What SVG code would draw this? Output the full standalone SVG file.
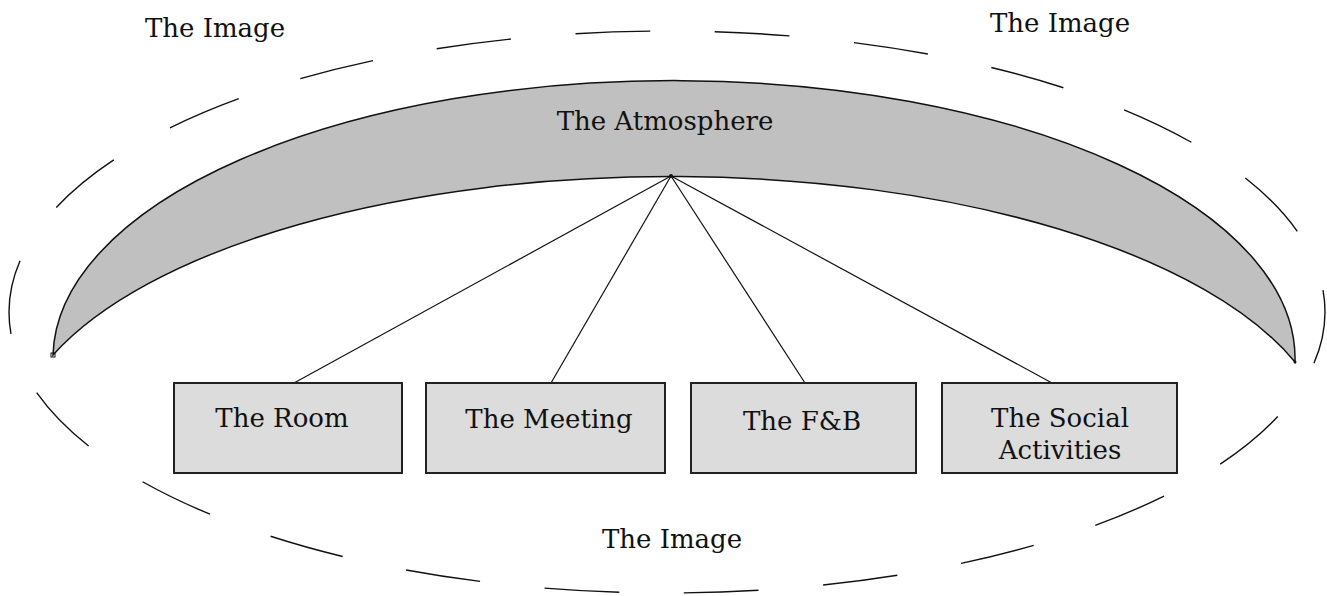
<svg xmlns="http://www.w3.org/2000/svg" width="1327" height="596" viewBox="0 0 1327 596">
  <style>
    .lbl { font-family: "DejaVu Serif", "Liberation Serif", serif; font-size: 26px; fill: #111; text-anchor: middle; }
    .box { fill: #dcdcdc; stroke: #222; stroke-width: 2; }
    .link { stroke: #111; stroke-width: 1.2; fill: none; }
  </style>
  <rect width="1327" height="596" fill="#ffffff"/>

  <!-- outer dashed boundary: the image -->
  <g id="image">
    <path d="M667,31 A658,281 0 0 0 9,312 A658,281 0 0 0 667,593 A658,281 0 0 0 1325,312 A658,281 0 0 0 667,31"
          pathLength="3080" fill="none" stroke="#111" stroke-width="1.4"
          stroke-dasharray="75 65" stroke-dashoffset="123"/>
    <text class="lbl" x="215" y="37">The Image</text>
    <text class="lbl" x="1060" y="32">The Image</text>
    <text class="lbl" x="672" y="548">The Image</text>
  </g>

  <!-- crescent band: the atmosphere -->
  <g id="atmosphere">
    <path d="M53,355 A621,278 0 0 1 1295,362 A660,275 0 0 0 53,355 Z"
          fill="#c0c0c0" stroke="#111" stroke-width="1.5"/>
    <rect x="51" y="353" width="4" height="4" fill="none" stroke="#111" stroke-width="1"/>
    <circle cx="1295" cy="362" r="1.5" fill="#111"/>
    <text class="lbl" x="665" y="130">The Atmosphere</text>
  </g>

  <!-- connectors from the atmosphere to each element -->
  <g id="connectors">
    <line class="link" x1="671" y1="176" x2="294" y2="383"/>
    <line class="link" x1="671" y1="176" x2="551" y2="383"/>
    <line class="link" x1="671" y1="176" x2="805" y2="383"/>
    <line class="link" x1="671" y1="176" x2="1052" y2="383"/>
    <circle cx="671" cy="176" r="2" fill="#111"/>
  </g>

  <g id="room">
    <rect class="box" x="174" y="383" width="228" height="90"/>
    <text class="lbl" x="282" y="427">The Room</text>
  </g>
  <g id="meeting">
    <rect class="box" x="426" y="383" width="239" height="90"/>
    <text class="lbl" x="549" y="428">The Meeting</text>
  </g>
  <g id="fnb">
    <rect class="box" x="691" y="383" width="225" height="90"/>
    <text class="lbl" x="802" y="430">The F&amp;B</text>
  </g>
  <g id="social">
    <rect class="box" x="942" y="383" width="235" height="90"/>
    <text class="lbl" x="1060" y="427">The Social</text>
    <text class="lbl" x="1060" y="459">Activities</text>
  </g>
</svg>
